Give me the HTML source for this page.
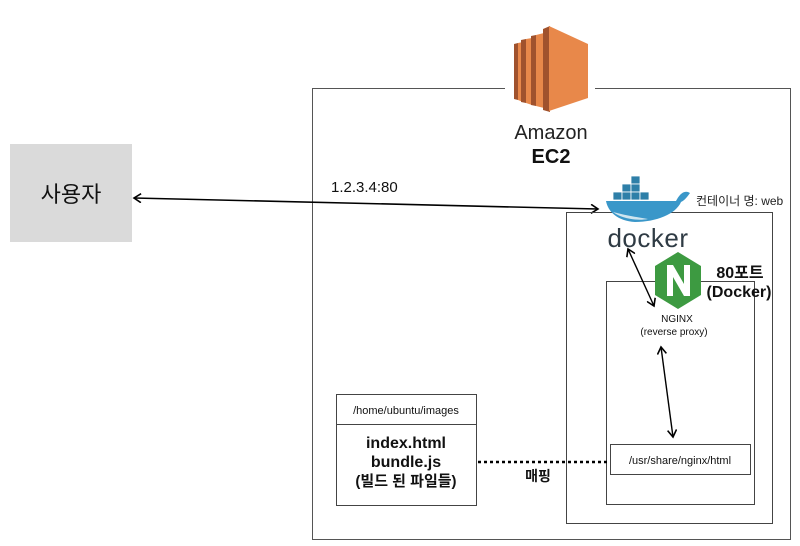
<!DOCTYPE html>
<html><head><meta charset="utf-8"><style>
html,body{margin:0;padding:0;background:#fff;}
svg{display:block;}
text{font-family:"Liberation Sans","Noto Sans CJK KR",sans-serif;}
</style></head><body>
<svg width="800" height="546" viewBox="0 0 800 546" xmlns="http://www.w3.org/2000/svg">
<defs>
<marker id="ah" markerWidth="10" markerHeight="10" refX="8" refY="5" orient="auto" markerUnits="userSpaceOnUse">
<path d="M1,0.5 L8,5 L1,9.5" fill="none" stroke="#000" stroke-width="1.6"/>
</marker>
<marker id="ahs" markerWidth="10" markerHeight="10" refX="2" refY="5" orient="auto" markerUnits="userSpaceOnUse">
<path d="M9,0.5 L2,5 L9,9.5" fill="none" stroke="#000" stroke-width="1.6"/>
</marker>
</defs>
<!-- EC2 box -->
<rect x="312.5" y="88.5" width="478" height="451" fill="none" stroke="#555" stroke-width="1"/>
<!-- EC2 icon -->
<g>
<rect x="505" y="20" width="90" height="95" fill="#fff"/>
<polygon points="514,44 518,43 518,100 514,99" fill="#a0522d"/>
<polygon points="518,43 523,42 523,102 518,100" fill="#e8884a"/>
<polygon points="521,40 526,39 526,103 521,102" fill="#a0522d"/>
<polygon points="526,39 532,38 532,105 526,103" fill="#e8884a"/>
<polygon points="531,36 536,35 536,106 531,105" fill="#a0522d"/>
<polygon points="536,35 544,33 544,108 536,106" fill="#e8884a"/>
<polygon points="543,29 550,26 550,112 543,110" fill="#a0522d"/>
<polygon points="549,26 588,44 588,98 549,111" fill="#e8884a"/>
</g>
<text x="551" y="139" font-size="20" text-anchor="middle" fill="#222">Amazon</text>
<text x="551" y="163" font-size="20" font-weight="bold" text-anchor="middle" fill="#111">EC2</text>
<!-- user -->
<rect x="10" y="144" width="122" height="98" fill="#dadada"/>
<text x="71" y="202" font-size="22" text-anchor="middle" fill="#111">사용자</text>
<text x="331" y="192" font-size="15" fill="#111">1.2.3.4:80</text>
<line x1="134" y1="198" x2="598" y2="209" stroke="#000" stroke-width="1.6" marker-start="url(#ahs)" marker-end="url(#ah)"/>
<!-- docker box -->
<rect x="566.5" y="212.5" width="206" height="311" fill="none" stroke="#444" stroke-width="1"/>
<!-- whale -->
<g fill="#2e7fa8" stroke="#fff" stroke-width="0.8">
<rect x="631" y="176" width="9" height="8"/>
<rect x="622" y="184" width="9" height="8"/><rect x="631" y="184" width="9" height="8"/>
<rect x="613" y="192" width="9" height="8"/><rect x="622" y="192" width="9" height="8"/><rect x="631" y="192" width="9" height="8"/><rect x="640" y="192" width="9" height="8"/>
</g>
<path d="M606,201 L676,201 C679,195 684,189 690,193 C687,197 685,200 681,202 C676,214 656,222 635,222 C618,221 608,212 606,201 Z" fill="#3a97c9"/>
<path d="M613,212 C622,219 638,221 648,219 C636,217 624,215 613,212Z" fill="#cfe5ef"/>
<text x="696" y="205" font-size="12" fill="#222">컨테이너 명: web</text>
<text x="648" y="247" font-size="26" text-anchor="middle" fill="#2f3b44" letter-spacing="0.5">docker</text>
<!-- nginx box -->
<rect x="606.5" y="281.5" width="148" height="223" fill="none" stroke="#444" stroke-width="1"/>
<polygon points="678,252 701,266 701,295 678,309 655,295 655,266" fill="#3d9a41"/>
<path d="M667,296 L667,265 L673,265 L684,284 L684,265 L690,265 L690,296 L684,296 L673,277 L673,296 Z" fill="#fff"/>
<text x="740" y="278" font-size="16" font-weight="bold" text-anchor="middle" fill="#111">80포트</text>
<text x="739" y="297" font-size="16" font-weight="bold" text-anchor="middle" fill="#111">(Docker)</text>
<text x="677" y="322" font-size="10" text-anchor="middle" fill="#111">NGINX</text>
<text x="674" y="335" font-size="10" text-anchor="middle" fill="#111">(reverse proxy)</text>
<line x1="628" y1="249" x2="654" y2="306" stroke="#000" stroke-width="1.4" marker-start="url(#ahs)" marker-end="url(#ah)"/>
<line x1="661" y1="347" x2="673" y2="437" stroke="#000" stroke-width="1.4" marker-start="url(#ahs)" marker-end="url(#ah)"/>
<rect x="610.5" y="444.5" width="140" height="30" fill="#fff" stroke="#444" stroke-width="1"/>
<text x="680" y="464" font-size="11" text-anchor="middle" fill="#111">/usr/share/nginx/html</text>
<!-- home box -->
<rect x="336.5" y="394.5" width="140" height="111" fill="none" stroke="#444" stroke-width="1"/>
<line x1="336.5" y1="424.5" x2="476.5" y2="424.5" stroke="#444" stroke-width="1"/>
<text x="406" y="414" font-size="11" text-anchor="middle" fill="#111">/home/ubuntu/images</text>
<text x="406" y="448" font-size="16" font-weight="bold" text-anchor="middle" fill="#111">index.html</text>
<text x="406" y="467" font-size="16" font-weight="bold" text-anchor="middle" fill="#111">bundle.js</text>
<text x="406" y="486" font-size="15" font-weight="bold" text-anchor="middle" fill="#111">(빌드 된 파일들)</text>
<line x1="478" y1="462" x2="610" y2="462" stroke="#000" stroke-width="2.5" stroke-dasharray="3,3"/>
<text x="538" y="481" font-size="14" font-weight="bold" text-anchor="middle" fill="#111">매핑</text>
</svg>
</body></html>
